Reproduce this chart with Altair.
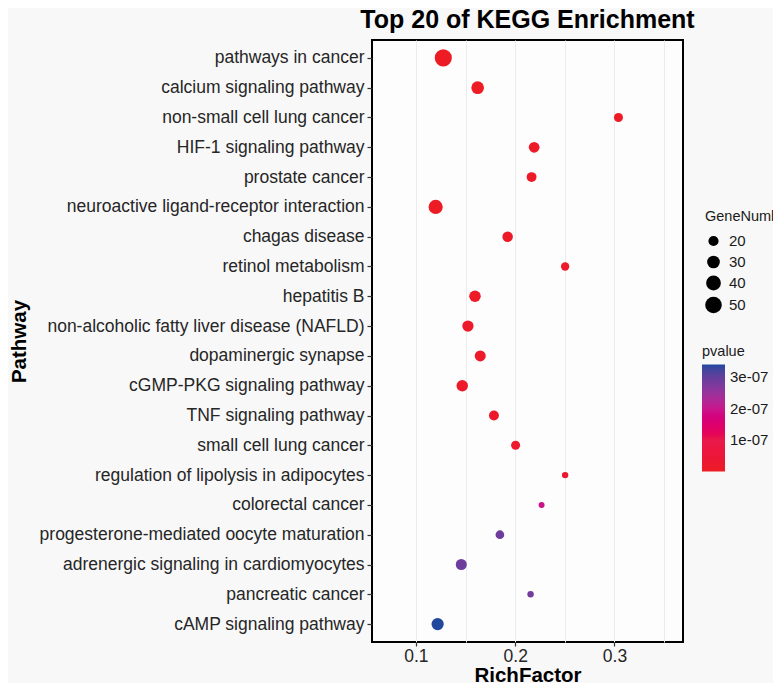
import altair as alt
import pandas as pd

# ---- data (top to bottom as displayed) ----
pathways = [
    "pathways in cancer",
    "calcium signaling pathway",
    "non-small cell lung cancer",
    "HIF-1 signaling pathway",
    "prostate cancer",
    "neuroactive ligand-receptor interaction",
    "chagas disease",
    "retinol metabolism",
    "hepatitis B",
    "non-alcoholic fatty liver disease (NAFLD)",
    "dopaminergic synapse",
    "cGMP-PKG signaling pathway",
    "TNF signaling pathway",
    "small cell lung cancer",
    "regulation of lipolysis in adipocytes",
    "colorectal cancer",
    "progesterone-mediated oocyte maturation",
    "adrenergic signaling in cardiomyocytes",
    "pancreatic cancer",
    "cAMP signaling pathway",
]
rich_factor = [0.1276, 0.1622, 0.3040, 0.2191, 0.2165, 0.1199, 0.1924, 0.2503, 0.1595, 0.1524,
               0.1648, 0.1467, 0.1786, 0.2004, 0.2503, 0.2266, 0.1846, 0.1457, 0.2155, 0.1219]
gene_number = [53, 30, 16, 22, 19, 37, 21, 14, 25, 24,
               23, 25, 19, 16, 9, 8, 15, 23, 9, 28]
pvalue = [2.0e-10, 1.5e-9, 4.0e-9, 6.0e-9, 8.0e-9, 1.0e-9, 9.0e-9, 1.2e-8, 1.0e-8, 1.1e-8,
          1.4e-8, 1.3e-8, 1.6e-8, 1.8e-8, 3.0e-8, 1.95e-7, 2.9e-7, 2.9e-7, 2.85e-7, 3.41e-7]

size_legend_values = [20, 30, 40, 50]
p_legend_values = [1e-07, 2e-07, 3e-07]
x_tick_values = [0.05, 0.1, 0.15, 0.2, 0.25, 0.3, 0.35]
p_colors = ["#ED1C24", "#E8194A", "#C8168C", "#633E9B", "#22489E"]

df = pd.DataFrame({
    "Pathway": pathways,
    "RichFactor": rich_factor,
    "GeneNumber": gene_number,
    "pvalue": pvalue,
})

pmin, pmax = min(pvalue), max(pvalue)
FONT = "Liberation Sans"
major_test = "abs(datum.value*10 - round(datum.value*10)) < 0.001"

chart = alt.Chart(df).mark_circle(opacity=1, strokeWidth=0).encode(
    x=alt.X(
        "RichFactor:Q",
        title="RichFactor",
        scale=alt.Scale(domain=[0.0558, 0.369], nice=False, zero=False),
        axis=alt.Axis(
            values=x_tick_values,
            labelExpr=f"({major_test}) ? format(datum.value, '.1f') : ''",
            gridColor="#ececec",
            tickOpacity={"condition": {"test": major_test, "value": 1}, "value": 0},
            tickSize=4,
            labelPadding=1,
            titleY=39,
            titleBaseline="alphabetic",
        ),
    ),
    y=alt.Y(
        "Pathway:N",
        title="Pathway",
        sort=pathways,
        scale=alt.Scale(padding=0.6),
        axis=alt.Axis(
            tickSize=5,
            labelPadding=3,
            gridColor="#ececec",
            titleX=-353,
            titleY=301,
            titleBaseline="middle",
            labelLimit=400,
        ),
    ),
    size=alt.Size(
        "GeneNumber:Q",
        title="GeneNumber",
        scale=alt.Scale(domain=[20, 50], range=[104, 275], zero=False),
        legend=alt.Legend(
            values=size_legend_values,
            orient="none",
            legendX=333,
            legendY=170,
            symbolFillColor="black",
            symbolStrokeWidth=0,
            symbolOpacity=1,
            symbolType="circle",
            rowPadding=5,
            titlePadding=9,
            labelOffset=7,
            titleLimit=200,
        ),
    ),
    color=alt.Color(
        "pvalue:Q",
        title="pvalue",
        scale=alt.Scale(domain=[pmin, 1e-07, 2e-07, 3e-07, pmax], range=p_colors),
        legend=alt.Legend(
            type="gradient",
            values=p_legend_values,
            labelExpr="replace(format(datum.value, '.0e'), 'e-', 'e-0')",
            orient="none",
            legendX=330,
            legendY=305,
            gradientLength=107,
            gradientThickness=23,
            gradientStrokeWidth=0,
            titlePadding=5,
            labelOffset=5,
        ),
    ),
).properties(
    width=311,
    height=602,
    title=alt.TitleParams(
        "Top 20 of KEGG Enrichment",
        font=FONT,
        fontSize=25,
        fontWeight="bold",
        color="black",
        anchor="middle",
        baseline="alphabetic",
        offset=7,
        dy=20,
    ),
    autosize=alt.AutoSizeParams(type="none"),
    padding={"left": 364, "top": 32, "right": 90, "bottom": 41},
).configure(
    background="#f8f8f8",
).configure_view(
    fill="#fdfdfd",
    stroke="black",
    strokeWidth=2,
).configure_axis(
    domain=False,
    tickColor="#333333",
    tickWidth=1.2,
    labelFont=FONT,
    labelFontSize=17.5,
    labelColor="#262626",
    titleFont=FONT,
    titleFontSize=20.5,
    titleFontWeight="bold",
    titleColor="black",
    gridWidth=1,
).configure_legend(
    titleFont=FONT,
    titleFontSize=14.5,
    titleFontWeight="normal",
    titleColor="#1a1a1a",
    labelFont=FONT,
    labelFontSize=15,
    labelColor="#1a1a1a",
)

chart.save("out.html", embed_options={"renderer": "svg", "actions": False})
